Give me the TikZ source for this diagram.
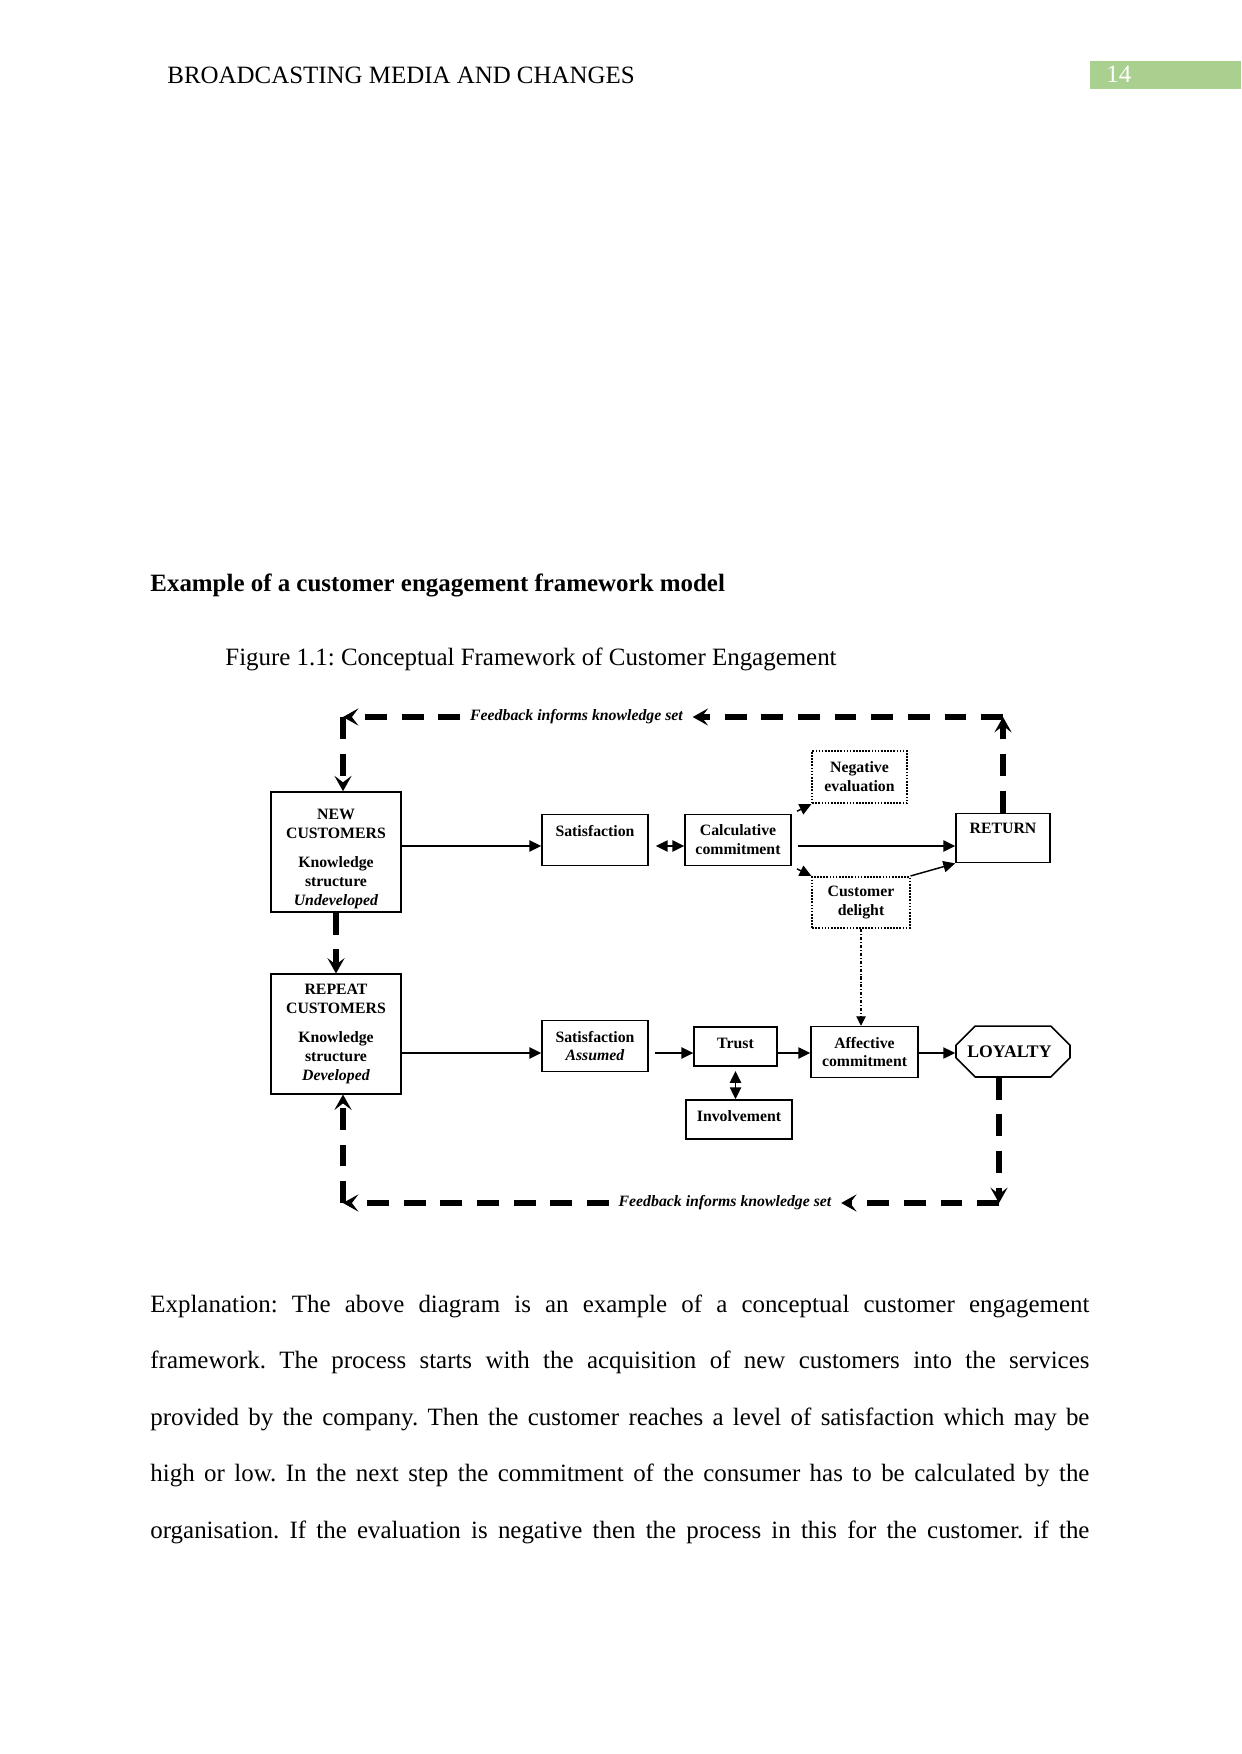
\documentclass[tikz,border=0pt]{standalone}
\usepackage{fontspec}
\setmainfont{Liberation Serif}
\usetikzlibrary{arrows.meta,shapes.misc}
\definecolor{pagegreen}{HTML}{A9D08E}
\newcommand{\diagfont}{\fontsize{7.6}{9.1}\selectfont\bfseries}
\newcommand{\pagefont}{\fontsize{12}{14.4}\selectfont\frenchspacing}

\begin{document}
\begin{tikzpicture}[x=0.16922mm,y=-0.16922mm,
  box/.style={draw,line width=0.8pt,align=center,font=\diagfont,inner sep=1pt},
  dotbox/.style={box,dash pattern=on 0.8pt off 0.7pt},
  flow/.style={line width=0.7pt,-{Triangle[length=2mm,width=1.9mm]}},
  twoway/.style={line width=0.7pt,{Triangle[length=2mm,width=1.9mm]}-{Triangle[length=2mm,width=1.9mm]}},
  dotflow/.style={line width=0.5pt,dash pattern=on 1.5pt off 1pt on 0.3pt off 1pt,-{Triangle[length=1.6mm,width=1.6mm]}},
  feedback/.style={line width=0.9mm,dash pattern=on 3.7mm off 2.5mm,-{Stealth[length=2.6mm,width=2.9mm,inset=1.1mm]}},
  fblabel/.style={font=\diagfont\itshape,inner xsep=1.6mm,inner ysep=1pt},
  pagetext/.style={anchor=base west,inner sep=0pt,font=\pagefont}]
  \useasboundingbox (0,0) rectangle (1241,1754);

  \node (head) at (167,84)[pagetext]{BROADCASTING MEDIA AND CHANGES};
  \node (pagebox) at (1090,61)[fill=pagegreen,anchor=north west,minimum width=25.55mm,minimum height=4.75mm,inner sep=0pt]{};
  \node (pagenum) at (1106,83)[pagetext,text=white]{14};
  \node (title) at (150,591)[pagetext,font=\pagefont\bfseries]{Example of a customer engagement framework model};
  \node (caption) at (225,665)[pagetext]{Figure 1.1: Conceptual Framework of Customer Engagement};

  \node (new) at (336,852)[box,minimum width=22mm,minimum height=20.3mm]
    {\rule{0pt}{12pt}NEW\\CUSTOMERS\\[5pt]Knowledge\\structure\\\textit{Undeveloped}};
  \node (repeat) at (336,1034)[box,minimum width=22mm,minimum height=20.2mm]
    {REPEAT\\CUSTOMERS\\[5pt]Knowledge\\structure\\\textit{Developed}};
  \node (sat) at (595,840)[box,minimum width=17.9mm,minimum height=8.6mm]{Satisfaction\\~};
  \node (calc) at (738,840)[box,minimum width=17.9mm,minimum height=8.6mm]{Calculative\\commitment};
  \node (neg) at (859.5,777)[dotbox,minimum width=16mm,minimum height=8.9mm]{Negative\\evaluation};
  \node (return) at (1003,838)[box,minimum width=15.9mm,minimum height=8.3mm]{RETURN\\~};
  \node (delight) at (861,902.5)[dotbox,minimum width=16.5mm,minimum height=8.7mm]{Customer\\delight};
  \node (satx) at (595,1046)[box,minimum width=17.9mm,minimum height=8.6mm]{Satisfaction\\\textit{Assumed}};
  \node (trust) at (735.5,1046.5)[box,minimum width=14mm,minimum height=6.6mm,text depth=3.2pt]{Trust};
  \node (involve) at (739,1119.5)[box,minimum width=17.9mm,minimum height=6.6mm,text depth=3.2pt]{Involvement};
  \node (affect) at (864.5,1052)[box,minimum width=18.1mm,minimum height=8.6mm]{Affective\\commitment};
  \node (loyal) at (1013,1051.5)[box,chamfered rectangle,chamfered rectangle xsep=1.9mm,
    chamfered rectangle ysep=1.9mm,minimum width=19.3mm,minimum height=8.6mm,
    font=\fontsize{8.5}{10}\selectfont\bfseries]{LOYALTY\hspace{1.2mm}};

  \coordinate (row1) at (0,846);
  \coordinate (row2) at (0,1053);
  \draw[flow] (new.east |- row1) -- (sat.west |- row1);
  \draw[twoway,shorten <=1.2mm] (sat.east |- row1) -- (calc.west |- row1);
  \draw[flow,shorten <=1mm] (calc.east |- row1) -- (return.west |- row1);
  \draw[flow,shorten <=1mm] (calc.north east) -- (neg.south west);
  \draw[flow,shorten <=1mm] (calc.south east) -- (delight.north west);
  \draw[flow] (delight.north east) -- (return.south west);
  \draw[dotflow] (delight.south) -- (delight.south |- affect.north);
  \draw[flow] (repeat.east |- row2) -- (satx.west |- row2);
  \draw[flow,shorten <=1mm] (satx.east |- row2) -- (trust.west |- row2);
  \draw[flow] (trust.east |- row2) -- (affect.west |- row2);
  \draw[flow] (affect.east |- row2) -- (loyal.west |- row2);
  \draw[twoway,shorten <=0.7mm] (trust.south) -- (trust.south |- involve.north);

  \coordinate (topline) at (0,717);
  \coordinate (tl) at (343,717);
  \node (fbtop) at (576.5,717)[fblabel]{Feedback informs knowledge set};
  \draw[feedback] (return.north) -- (return.north |- topline);
  \draw[feedback] (return.north |- topline) -- (fbtop.east);
  \draw[feedback] (fbtop.west) -- (tl);
  \draw[feedback] (tl) -- (tl |- new.north);
  \draw[feedback] (new.south) -- (repeat.north);

  \coordinate (br) at (999,1203);
  \coordinate (bl) at (343,1203);
  \node (fbbot) at (725,1203)[fblabel]{Feedback informs knowledge set};
  \draw[feedback] (br |- loyal.south) -- (br);
  \draw[feedback] (br) -- (fbbot.east);
  \draw[feedback] (fbbot.west) -- (bl);
  \draw[feedback] (bl) -- (bl |- repeat.south);

  \foreach \txt [count=\i] in {
    {Explanation: The above diagram is an example of a conceptual customer engagement},
    {framework. The process starts with the acquisition of new customers into the services},
    {provided by the company. Then the customer reaches a level of satisfaction which may be},
    {high or low. In the next step the commitment of the consumer has to be calculated by the},
    {organisation. If the evaluation is negative then the process in this for the customer. if the}%
  }
  {
    \node (body\i) at (150,{1312+56.5*(\i-1)})[pagetext]{\makebox[158.9mm][s]{\txt}};
  }
\end{tikzpicture}
\end{document}
